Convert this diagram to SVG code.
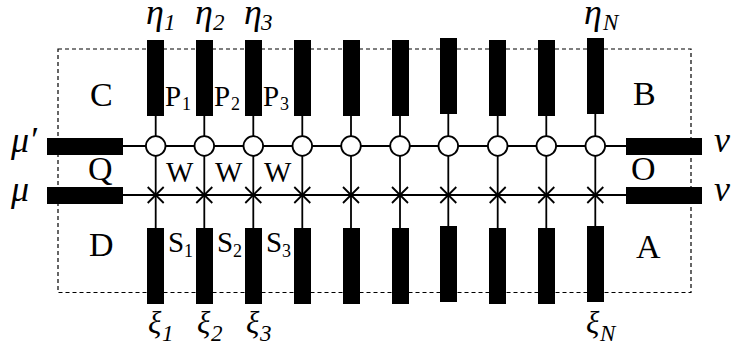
<svg xmlns="http://www.w3.org/2000/svg" width="731" height="347" viewBox="0 0 731 347">
<style>
.b{fill:#000}
.l{stroke:#000;stroke-width:1.8;fill:none}
.c{stroke:#000;stroke-width:1.8;fill:#fff}
.x{stroke:#000;stroke-width:1.8;fill:none}
.d{stroke:#000;stroke-width:1.2;stroke-dasharray:4 3;fill:none}
text{font-family:"Liberation Serif","Times New Roman",serif;fill:#000}
.t{font-size:34px}
.p{font-size:29px}
.s{font-size:18px}
.g{font-size:36px;font-style:italic}
.x2{font-size:31px;font-style:italic}
.gs{font-size:23px;font-style:italic}
</style>
<rect id="boundary" class="d" x="58" y="49" width="633" height="243.500"/>
<g id="connectors">
<path class="l" d="M123 146H626M123 195H626"/>
<path class="l" d="M155.700 116V228M204.300 116V228M253.300 116V228M302.300 116V228M351 116V228M400 116V228M448.300 114V226M497.700 116V228M546.300 116V228M595.300 114V226"/>
</g>
<g id="ports">
<rect class="b" x="47" y="138" width="76" height="17"/>
<rect class="b" x="47" y="187" width="76" height="17"/>
<rect class="b" x="626" y="138" width="76" height="17"/>
<rect class="b" x="626" y="187" width="76" height="17"/>
</g>
<g id="bars-top">
<rect class="b" x="147" y="40" width="17" height="76"/>
<rect class="b" x="196" y="40" width="17" height="76"/>
<rect class="b" x="245" y="40" width="17" height="76"/>
<rect class="b" x="294" y="40" width="17" height="76"/>
<rect class="b" x="343" y="40" width="17" height="76"/>
<rect class="b" x="392" y="40" width="17" height="76"/>
<rect class="b" x="440" y="38" width="17" height="76"/>
<rect class="b" x="489" y="40" width="17" height="76"/>
<rect class="b" x="538" y="40" width="17" height="76"/>
<rect class="b" x="587" y="38" width="17" height="76"/>
</g>
<g id="bars-bottom">
<rect class="b" x="147" y="228" width="17" height="76"/>
<rect class="b" x="196" y="228" width="17" height="76"/>
<rect class="b" x="245" y="228" width="17" height="76"/>
<rect class="b" x="294" y="228" width="17" height="76"/>
<rect class="b" x="343" y="228" width="17" height="76"/>
<rect class="b" x="392" y="228" width="17" height="76"/>
<rect class="b" x="440" y="226" width="17" height="76"/>
<rect class="b" x="489" y="228" width="17" height="76"/>
<rect class="b" x="538" y="228" width="17" height="76"/>
<rect class="b" x="587" y="226" width="17" height="76"/>
</g>
<g id="circles">
<circle class="c" cx="155.700" cy="146" r="9.800"/>
<circle class="c" cx="204.300" cy="146" r="9.800"/>
<circle class="c" cx="253.300" cy="146" r="9.800"/>
<circle class="c" cx="302.300" cy="146" r="9.800"/>
<circle class="c" cx="351" cy="146" r="9.800"/>
<circle class="c" cx="400" cy="146" r="9.800"/>
<circle class="c" cx="448.300" cy="146" r="9.800"/>
<circle class="c" cx="497.700" cy="146" r="9.800"/>
<circle class="c" cx="546.300" cy="146" r="9.800"/>
<circle class="c" cx="595.300" cy="146" r="9.800"/>
</g>
<g id="crosses">
<path class="x" d="M147.700 187l16 16m0-16l-16 16M196.300 187l16 16m0-16l-16 16M245.300 187l16 16m0-16l-16 16M294.300 187l16 16m0-16l-16 16M343 187l16 16m0-16l-16 16M392 187l16 16m0-16l-16 16M440.300 187l16 16m0-16l-16 16M489.700 187l16 16m0-16l-16 16M538.300 187l16 16m0-16l-16 16M587.300 187l16 16m0-16l-16 16"/>
</g>
<g id="labels">
<text class="t" x="90" y="106">C</text>
<text class="t" x="88" y="180">Q</text>
<text class="t" x="89" y="256">D</text>
<text class="t" x="633" y="105">B</text>
<text class="t" x="631" y="180">O</text>
<text class="t" x="636" y="258">A</text>
<text class="p" x="165" y="106">P<tspan class="s" x="182" y="110">1</tspan></text>
<text class="p" x="214" y="106">P<tspan class="s" x="231" y="110">2</tspan></text>
<text class="p" x="263" y="106">P<tspan class="s" x="280" y="110">3</tspan></text>
<text class="p" x="168" y="252">S<tspan class="s" x="184" y="257">1</tspan></text>
<text class="p" x="217" y="252">S<tspan class="s" x="233" y="257">2</tspan></text>
<text class="p" x="266" y="252">S<tspan class="s" x="282" y="257">3</tspan></text>
<text class="p" x="166" y="182">W</text>
<text class="p" x="215" y="182">W</text>
<text class="p" x="264" y="182">W</text>
<text class="g" x="146" y="24">η<tspan class="gs" x="164" y="30">1</tspan></text>
<text class="g" x="195" y="24">η<tspan class="gs" x="213" y="30">2</tspan></text>
<text class="g" x="244" y="24">η<tspan class="gs" x="261" y="30">3</tspan></text>
<text class="g" x="584" y="24">η<tspan class="gs" x="603" y="30">N</tspan></text>
<text class="x2" x="148" y="333">ξ<tspan class="gs" x="162" y="341">1</tspan></text>
<text class="x2" x="197" y="333">ξ<tspan class="gs" x="211" y="341">2</tspan></text>
<text class="x2" x="246" y="333">ξ<tspan class="gs" x="260" y="341">3</tspan></text>
<text class="x2" x="586" y="333">ξ<tspan class="gs" x="600" y="341">N</tspan></text>
<text class="g" x="11" y="152">μ′</text>
<text class="g" x="11" y="201">μ</text>
<text class="g" x="714" y="152">ν</text>
<text class="g" x="714" y="201">ν</text>
</g>
</svg>
